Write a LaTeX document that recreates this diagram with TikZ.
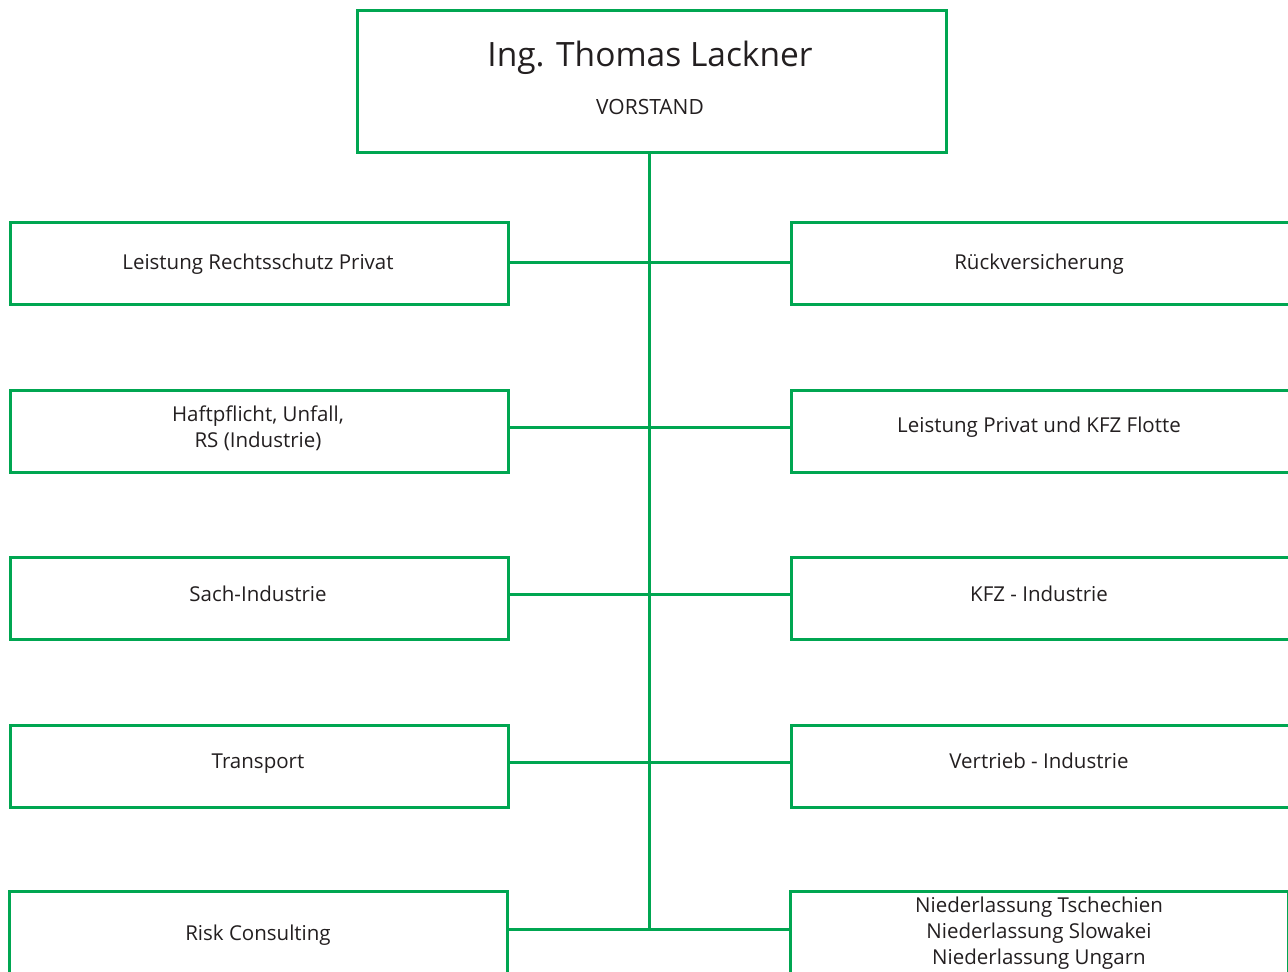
\documentclass[tikz,border=0pt]{standalone}
\usepackage{fontspec}
\setmainfont{Open Sans}
\definecolor{grn}{RGB}{0,166,81}
\definecolor{txt}{RGB}{35,31,32}
\begin{document}
\begin{tikzpicture}[x=1pt,y=-1pt,
  box/.style={draw=grn,line width=3pt,minimum width=498pt,minimum height=82pt,inner sep=0pt,anchor=north west},
  openbox/.style={minimum width=498pt,minimum height=84pt,inner sep=0pt,anchor=north west},
  lblm/.style={align=center,text=txt,inner sep=0pt,font=\fontsize{20.5}{26}\selectfont},
  lbl/.style={lblm,text height=15pt,text depth=5pt},
  conn/.style={draw=grn,line width=3pt}]
\useasboundingbox (0,0) rectangle (1288,972);
\clip (0,0) rectangle (1288,972);
\fill[white] (0,0) rectangle (1288,972);
% top
\node[draw=grn,line width=3pt,minimum width=589pt,minimum height=142pt,inner sep=0pt,anchor=north west] (top) at (356,9) {};
\node[text=txt,inner sep=0pt,text height=24pt,text depth=8pt,font=\fontsize{33.5}{38}\selectfont] (name) at (650,58) {Ing. Thomas Lackner};
\node[text=txt,inner sep=0pt,text height=15pt,text depth=5pt,font=\fontsize{21}{24}\selectfont] (role) at (650,109) {VORSTAND};
% boxes left
\node[box] (l1) at (9,221) {};
\node[box] (l2) at (9,389) {};
\node[box] (l3) at (9,556) {};
\node[box] (l4) at (9,724) {};
\node[openbox] (l5) at (9,891) {};
% boxes right
\node[box] (r1) at (790,221) {};
\node[box] (r2) at (790,389) {};
\node[box] (r3) at (790,556) {};
\node[box] (r4) at (790,724) {};
\node[openbox] (r5) at (790,891) {};
\draw[conn] (l5.south west) -- (l5.north west) -- (l5.north east) -- (l5.south east);
\draw[conn] (r5.south west) -- (r5.north west) -- (r5.north east) -- (r5.south east);
% texts
\node[lbl] (tl1) at (258,264) {Leistung Rechtsschutz Privat};
\node[lblm] (tl2) at (258,428) {Haftpflicht, Unfall,\\RS (Industrie)};
\node[lbl] (tl3) at (258,596) {Sach-Industrie};
\node[lbl] (tl4) at (258,763) {Transport};
\node[lbl] (tl5) at (258,935) {Risk Consulting};
\node[lbl] (tr1) at (1039,264) {Rückversicherung};
\node[lbl] (tr2) at (1039,427) {Leistung Privat und KFZ Flotte};
\node[lbl] (tr3) at (1039,596) {KFZ - Industrie};
\node[lbl] (tr4) at (1039,763) {Vertrieb - Industrie};
\node[lblm] (tr5) at (1039,933) {Niederlassung Tschechien\\Niederlassung Slowakei\\Niederlassung Ungarn};
% connectors
\coordinate (c1) at (649,262);
\coordinate (c2) at (649,427);
\coordinate (c3) at (649,594);
\coordinate (c4) at (649,762);
\coordinate (j5) at (649,929);
\draw[conn] (top.south -| j5) -- (j5);
\draw[conn] (l1.east |- c1) -- (r1.west |- c1);
\draw[conn] (l2.east |- c2) -- (r2.west |- c2);
\draw[conn] (l3.east |- c3) -- (r3.west |- c3);
\draw[conn] (l4.east |- c4) -- (r4.west |- c4);
\draw[conn] (l5.east |- j5) -- (r5.west |- j5);
\end{tikzpicture}
\end{document}
